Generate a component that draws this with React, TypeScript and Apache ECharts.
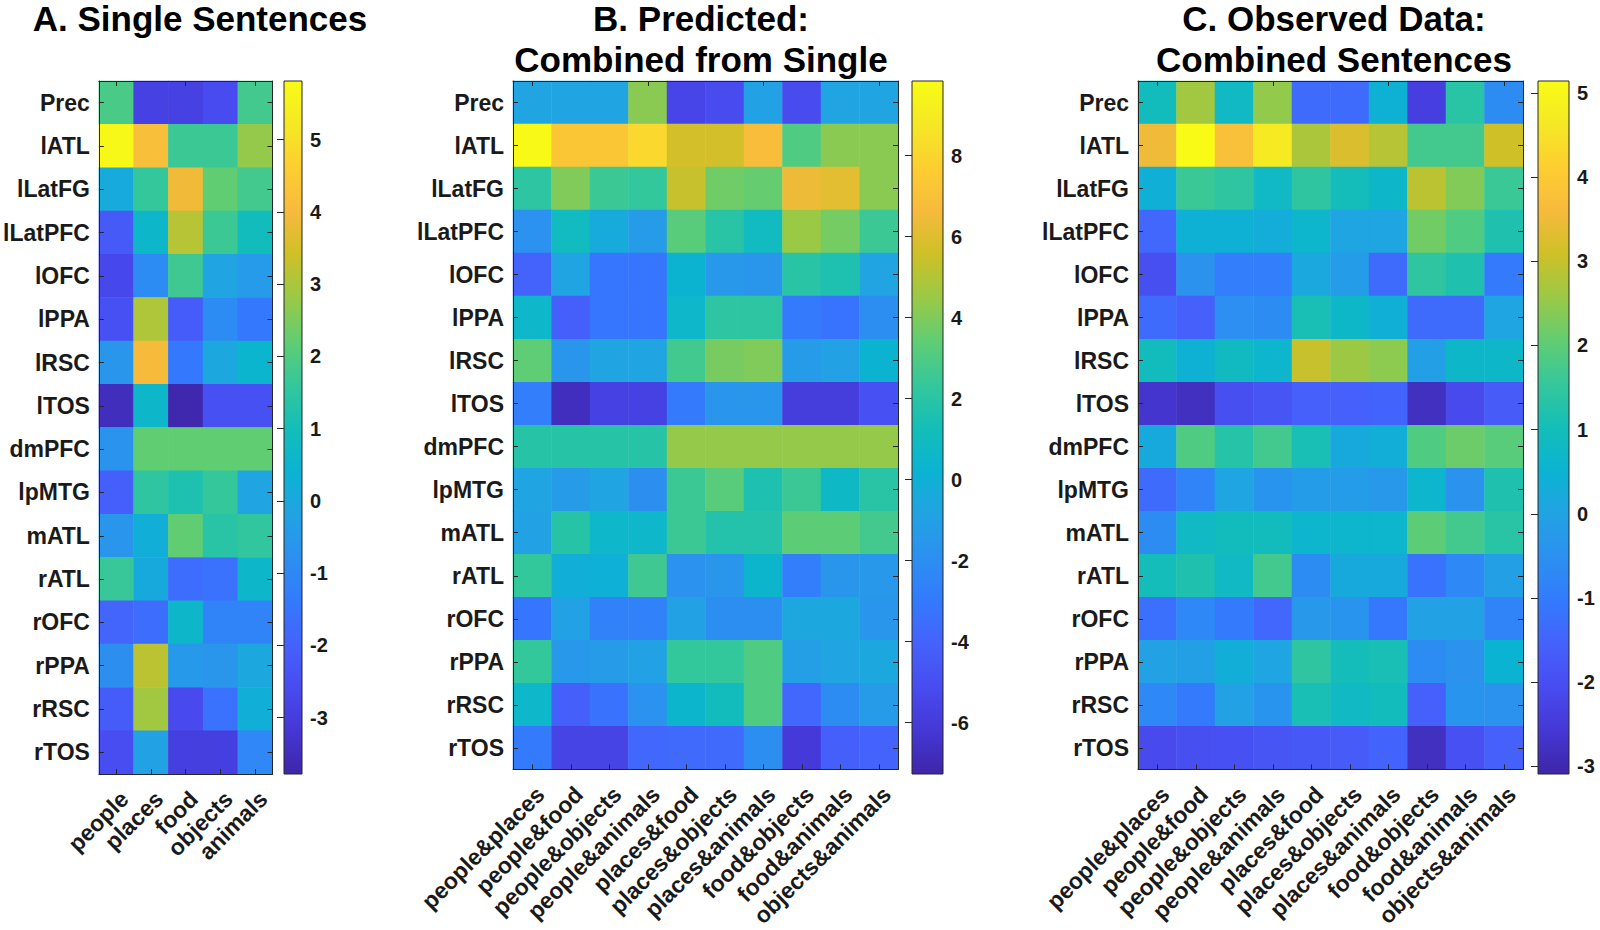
import React, { useEffect, useRef } from "react";
import * as echarts from "echarts";

const regions = ["Prec", "lATL", "lLatFG", "lLatPFC", "lOFC", "lPPA", "lRSC", "lTOS", "dmPFC", "lpMTG", "mATL", "rATL", "rOFC", "rPPA", "rRSC", "rTOS"];
const singleCats = ["people", "places", "food", "objects", "animals"];
const pairCats = ["people&places", "people&food", "people&objects", "people&animals", "places&food", "places&objects", "places&animals", "food&objects", "food&animals", "objects&animals"];

const singleValues = [
  [1.9, -2.9, -2.9, -2.6, 1.8],
  [5.7, 4.15, 1.7, 1.7, 2.75],
  [0.1, 1.6, 3.9, 2.2, 1.8],
  [-2.2, 0.6, 3.15, 1.7, 0.9],
  [-2.7, -0.9, 1.75, -0.15, -0.45],
  [-2.45, 3.05, -2.15, -0.9, -1.4],
  [-0.6, 4.05, -1.4, -0.05, 0.5],
  [-3.5, 0.6, -3.7, -2.45, -2.45],
  [-0.7, 2.2, 2.2, 2.2, 2.2],
  [-2.05, 1.5, 1.2, 1.6, -0.15],
  [-0.6, 0.25, 2.2, 1.4, 1.55],
  [1.65, 0.05, -1.7, -1.6, 0.6],
  [-1.9, -1.7, 0.6, -1.1, -1.1],
  [-0.8, 3.2, -0.5, -0.6, -0.05],
  [-2.15, 2.9, -2.65, -1.6, 0.25],
  [-2.55, -0.25, -2.95, -2.95, -1.0],
];

const predictedValues = [
  [-0.8, -0.8, -0.8, 4.2, -5.5, -5.2, -0.95, -5.2, -0.8, -0.8],
  [9.7, 7.3, 7.3, 8.1, 5.7, 5.7, 6.8, 3.0, 4.2, 4.2],
  [2.1, 4.0, 2.5, 2.3, 5.4, 3.7, 3.5, 6.4, 6.1, 4.2],
  [-1.8, 0.95, -0.3, -1.3, 3.2, 1.95, 0.95, 4.5, 3.8, 2.5],
  [-4.0, -0.8, -3.2, -3.2, 0.25, -1.45, -1.6, 1.95, 1.6, -0.8],
  [0.6, -4.2, -3.2, -3.2, 0.6, 2.1, 2.1, -3.0, -3.3, -2.0],
  [3.35, -1.6, -0.8, -0.8, 2.65, 3.85, 4.0, -1.3, -0.95, 0.25],
  [-2.8, -6.75, -5.7, -5.7, -3.0, -1.6, -1.6, -5.9, -5.9, -4.9],
  [1.9, 1.9, 1.9, 1.9, 4.4, 4.4, 4.4, 4.4, 4.4, 4.4],
  [-0.8, -1.3, -0.8, -1.95, 2.5, 3.2, 1.6, 2.5, 0.75, 1.95],
  [-0.95, 1.9, 0.6, 0.6, 2.5, 1.8, 1.8, 3.3, 3.3, 2.7],
  [2.3, -0.1, 0.05, 2.6, -1.8, -1.6, 0.45, -2.8, -1.6, -1.45],
  [-3.2, -0.95, -2.65, -2.65, -0.95, -2.0, -2.0, -0.6, -0.6, -1.6],
  [2.3, -1.45, -1.3, -0.95, 2.3, 2.3, 3.0, -1.1, -0.8, -0.6],
  [0.6, -4.2, -3.35, -1.8, 0.45, 1.1, 3.0, -3.85, -2.1, -1.3],
  [-3.0, -5.55, -5.55, -3.85, -3.7, -3.7, -2.0, -6.05, -4.2, -4.0],
];

const observedValues = [
  [0.95, 2.65, 0.8, 2.5, -1.35, -1.35, 0.45, -2.4, 1.35, -0.6],
  [3.5, 5.1, 3.75, 4.7, 2.75, 3.25, 2.85, 1.7, 1.7, 3.1],
  [0.4, 1.6, 1.45, 0.8, 1.45, 1.0, 0.7, 2.9, 2.35, 1.6],
  [-1.45, 0.45, 0.45, 0.3, 0.6, 0.05, 0.05, 2.2, 1.85, 1.2],
  [-2.0, -0.45, -0.95, -0.95, 0.15, -0.2, -1.35, 1.45, 1.2, -1.0],
  [-1.35, -1.6, -0.55, -0.6, 1.1, 0.7, 0.4, -1.35, -1.35, 0.05],
  [0.95, 0.45, 0.85, 0.6, 3.0, 2.6, 2.45, -0.1, 0.7, 0.7],
  [-2.65, -2.8, -2.0, -1.85, -1.6, -1.6, -1.5, -2.8, -2.1, -1.7],
  [0.2, 1.85, 1.3, 1.7, 1.1, 0.2, 0.35, 1.85, 2.15, 1.95],
  [-1.35, -0.8, 0.05, -0.4, -0.2, -0.2, -0.3, 0.6, -0.45, 1.2],
  [-0.6, 0.8, 0.95, 0.95, 0.6, 0.6, 0.6, 2.0, 1.7, 1.35],
  [1.0, 1.2, 0.8, 1.7, -0.6, 0.2, 0.2, -1.2, -0.7, -0.1],
  [-1.25, -0.7, -1.0, -1.45, -0.3, -0.4, -1.1, -0.05, -0.05, -0.8],
  [-0.05, -0.1, 0.35, 0.05, 1.45, 1.0, 1.1, -0.6, -0.45, 0.5],
  [-0.7, -1.0, -0.05, -0.4, 1.1, 0.8, 0.95, -1.6, -0.4, -0.45],
  [-2.1, -2.0, -1.95, -1.85, -1.75, -1.7, -1.5, -2.8, -1.95, -1.6],
];

const singleRange = [-3.78, 5.81];
const predictedRange = [-7.27, 9.84];
const observedRange = [-3.09, 5.14];
const singleTicks = [-3, -2, -1, 0, 1, 2, 3, 4, 5];
const predictedTicks = [-6, -4, -2, 0, 2, 4, 6, 8];
const observedTicks = [-3, -2, -1, 0, 1, 2, 3, 4, 5];

const titleA = ["A. Single Sentences"];
const titleB = ["B. Predicted:", "Combined from Single"];
const titleC = ["C. Observed Data:", "Combined Sentences"];

const parula = [
  "#3E26A8", "#4537D5", "#484CF0", "#4562FC", "#337AFD", "#2C90F0", "#21A3E3", "#0BB3D2",
  "#14BEB8", "#35C79B", "#61CD72", "#9AC946", "#CEC027", "#F7BA3D", "#FDCE31", "#F5E825", "#F9FB15",
];

const FONT = "'Liberation Sans', Arial, Helvetica, sans-serif";
const INK = "#1a1a1a";
const AXIS = "#262626";

const panels = [
  { cats: singleCats, values: singleValues, range: singleRange, ticks: singleTicks, left: 98, width: 174.5, cbLeft: 284, cbWidth: 18, title: titleA, titleX: 200 },
  { cats: pairCats, values: predictedValues, range: predictedRange, ticks: predictedTicks, left: 513, width: 385, cbLeft: 912, cbWidth: 31, title: titleB, titleX: 701 },
  { cats: pairCats, values: observedValues, range: observedRange, ticks: observedTicks, left: 1138, width: 385, cbLeft: 1538, cbWidth: 31, title: titleC, titleX: 1334 },
];

const TOP = 81;
const HEIGHT = 693;

function buildOption() {
  const grid: any[] = [];
  const xAxis: any[] = [];
  const yAxis: any[] = [];
  const series: any[] = [];
  const visualMap: any[] = [];
  const graphic: any[] = [];

  const lineStyle = { color: AXIS, width: 1 };

  panels.forEach((p, i) => {
    grid[i] = { left: p.left, top: TOP, width: p.width, height: HEIGHT, containLabel: false };
    grid[3 + i] = { left: p.cbLeft, top: TOP, width: p.cbWidth, height: HEIGHT, containLabel: false };

    const baseX = {
      type: "category",
      data: p.cats,
      gridIndex: i,
      z: 6,
      axisLine: { show: true, onZero: false, lineStyle },
      axisTick: { show: true, inside: true, alignWithLabel: true, length: 5, lineStyle },
      splitLine: { show: false },
    };
    xAxis[2 * i] = {
      ...baseX,
      position: "bottom",
      axisLabel: {
        show: true,
        interval: 0,
        rotate: 45,
        align: "right",
        verticalAlign: "top",
        margin: 13,
        fontSize: 23,
        fontWeight: "bold",
        fontFamily: FONT,
        color: INK,
      },
    };
    xAxis[2 * i + 1] = { ...baseX, position: "top", axisLabel: { show: false } };

    const baseY = {
      type: "category",
      data: regions,
      inverse: true,
      gridIndex: i,
      z: 6,
      axisLine: { show: true, onZero: false, lineStyle },
      axisTick: { show: true, inside: true, alignWithLabel: true, length: 5, lineStyle },
      splitLine: { show: false },
    };
    yAxis[2 * i] = {
      ...baseY,
      position: "left",
      axisLabel: { show: true, interval: 0, margin: 9, fontSize: 23, fontWeight: "bold", fontFamily: FONT, color: INK },
    };
    yAxis[2 * i + 1] = { ...baseY, position: "right", axisLabel: { show: false } };

    xAxis[6 + i] = { type: "value", gridIndex: 3 + i, min: 0, max: 1, show: false };
    yAxis[6 + i] = {
      type: "value",
      gridIndex: 3 + i,
      min: p.range[0],
      max: p.range[1],
      position: "right",
      z: 6,
      axisLine: { show: false },
      splitLine: { show: false },
      axisTick: { show: true, inside: true, length: 7, lineStyle, customValues: p.ticks },
      axisLabel: {
        show: true,
        margin: 8,
        fontSize: 20,
        fontWeight: "bold",
        fontFamily: FONT,
        color: INK,
        customValues: p.ticks,
      },
    };

    const data: any[] = [];
    p.values.forEach((row, r) => row.forEach((v, c) => data.push([c, r, v])));
    series[i] = {
      type: "heatmap",
      xAxisIndex: 2 * i,
      yAxisIndex: 2 * i,
      data,
      itemStyle: { borderWidth: 0 },
      emphasis: { disabled: true },
      progressive: 0,
    };

    visualMap[i] = {
      type: "continuous",
      show: false,
      seriesIndex: i,
      dimension: 2,
      min: p.range[0],
      max: p.range[1],
      inRange: { color: parula },
    };

    const stops = parula.map((c, k) => ({ offset: 1 - k / (parula.length - 1), color: c })).reverse();
    const range = p.range;
    series[3 + i] = {
      type: "custom",
      xAxisIndex: 6 + i,
      yAxisIndex: 6 + i,
      data: [[0, range[0]]],
      silent: true,
      renderItem: (_params: any, api: any) => {
        const a = api.coord([0, range[1]]);
        const b = api.coord([1, range[0]]);
        return {
          type: "rect",
          shape: { x: a[0], y: a[1], width: b[0] - a[0], height: b[1] - a[1] },
          style: {
            fill: new echarts.graphic.LinearGradient(0, 0, 0, 1, stops),
            stroke: AXIS,
            lineWidth: 1,
          },
        };
      },
    };

    p.title.forEach((t, k) => {
      graphic.push({
        type: "text",
        x: p.titleX,
        y: 18.5 + k * 41,
        style: {
          text: t,
          fill: "#000",
          font: `bold 35px ${FONT}`,
          textAlign: "center",
          textVerticalAlign: "middle",
        },
      });
    });
  });

  return {
    animation: false,
    backgroundColor: "#ffffff",
    grid,
    xAxis,
    yAxis,
    visualMap,
    series,
    graphic,
  };
}

export default function App() {
  const ref = useRef<HTMLDivElement>(null);
  useEffect(() => {
    if (!ref.current) return;
    const chart = echarts.init(ref.current, undefined, { renderer: "svg" });
    chart.setOption(buildOption() as any);
    return () => chart.dispose();
  }, []);
  return (
    <div
      ref={ref}
      style={{ position: "fixed", left: 0, top: 0, width: 1600, height: 930, background: "#fff" }}
    />
  );
}
